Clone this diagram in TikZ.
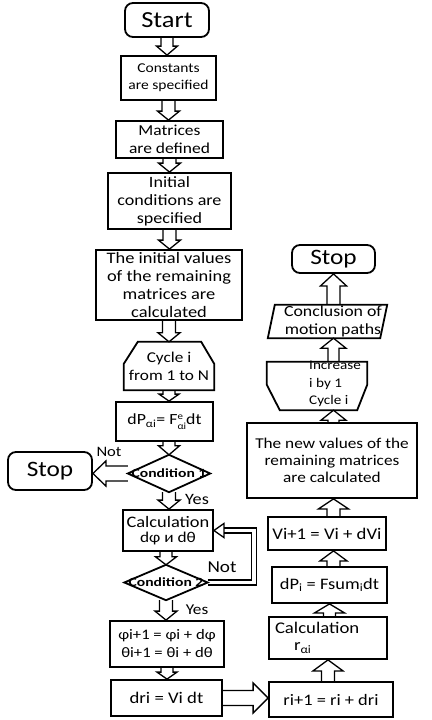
\documentclass[tikz,border=0pt]{standalone}
\usepackage{fontspec}
\setmainfont{Carlito}[FakeStretch=1.15]
\newfontfamily\condfont{Carlito}[FakeStretch=1.25]
\usetikzlibrary{calc}
\pgfdeclarelayer{bg}
\pgfsetlayers{bg,main}
\newcommand\fs[2]{\fontsize{#1}{#2}\selectfont}
% fat hollow arrow: tail, tip, half shaft, half head, head length
\newcommand\fatarrow[5]{%
  \coordinate (fa-h) at ($(#2)!#5!(#1)$);
  \filldraw[fatarr] ($(#1)!#3!90:(#2)$) -- ($(fa-h)!#3!90:(#2)$) -- ($(fa-h)!#4!90:(#2)$) -- (#2) -- ($(fa-h)!#4!-90:(#2)$) -- ($(fa-h)!#3!-90:(#2)$) -- ($(#1)!#3!-90:(#2)$);
}
\tikzset{
  box/.style={draw, line width=1.8pt, inner sep=1pt, align=center},
  term/.style={box, rounded corners=8pt},
  plain/.style={inner sep=1pt, align=center},
  shapeline/.style={draw, line width=1.8pt, line join=miter},
  fatarr/.style={draw, fill=white, line width=1.3pt, line join=miter},
  dbl/.style={draw, double, double distance=3.5pt, line width=1.3pt, line join=miter},
  lbl/.style={inner sep=0pt},
  cond/.style={inner sep=0pt, font=\condfont\bfseries\fs{12.5}{14}},
}
\begin{document}
\begin{tikzpicture}[x=1pt, y=-1pt]
\useasboundingbox (0,0) rectangle (431,720);

% left column
\node[term, minimum width=84pt, minimum height=34pt, font=\fs{23}{24}] (start) at (167,20) {Start};
\node[box, minimum width=95pt, minimum height=44pt, font=\fs{13.5}{16.7}] (const) at (168.5,78) {Constants\\are specified};
\node[box, minimum width=107pt, minimum height=37pt, font=\fs{15.2}{18.3}] (matr) at (169.5,139.5) {Matrices\\are defined};
\node[box, minimum width=123pt, minimum height=56pt, font=\fs{15.7}{18}] (initc) at (169.5,201) {Initial\\conditions are\\specified};
\node[box, minimum width=146pt, minimum height=70pt, font=\fs{16}{18.3}] (initv) at (169,285) {The initial values\\of the remaining\\matrices are\\calculated};
\node[plain, minimum width=90pt, minimum height=48pt, font=\fs{15}{17.7}] (cycle) at (169,366) {Cycle i\\from 1 to N};
\draw[shapeline] (cycle.south west) -- ($(cycle.north west)+(0,22)$) -- ($(cycle.north west)+(14,0)$) -- ($(cycle.north east)+(-13,0)$) -- ($(cycle.north east)+(0,22)$) -- (cycle.south east) -- cycle;
\node[box, minimum width=97pt, minimum height=39pt, font=\fs{15.5}{18}] (dp) at (164.5,421.5) {dP\textsubscript{αi}= F{\fs{9.5}{10}\raisebox{-4.5pt}{\shortstack[l]{e\\αi}}}dt};
\node[cond, minimum width=82pt, minimum height=37pt] (cond1) at (169,473.5) {Condition 1};
\draw[shapeline] (cond1.north) -- (cond1.east) -- (cond1.south) -- (cond1.west) -- cycle;
\node[term, minimum width=84pt, minimum height=38pt, font=\fs{22}{24}] (stop1) at (50,471) {Stop};
\node[box, minimum width=90pt, minimum height=41pt, font=\fs{16}{15.5}] (calc1) at (168,530.5) {Calculation\\{\fs{15}{15.5}dφ и dθ}};
\node[cond, minimum width=83pt, minimum height=35pt] (cond2) at (166,582.5) {Condition 2};
\draw[shapeline] (cond2.north) -- (cond2.east) -- (cond2.south) -- (cond2.west) -- cycle;
\node[box, minimum width=114pt, minimum height=46pt, font=\fs{14.5}{18}] (phi) at (167,644) {φi+1 = φi + dφ\\θi+1 = θi + dθ};
\node[box, minimum width=111pt, minimum height=36pt, font=\fs{16.3}{18}] (dri) at (166.5,698) {dri = Vi dt};

% labels
\node[lbl, font=\fs{14.4}{16}] (not1) at (109,452) {Not};
\node[lbl, font=\fs{15.8}{17}] (yes1) at (197,499) {Yes};
\node[lbl, font=\fs{16.7}{18}] (not2) at (222,567) {Not};
\node[lbl, font=\fs{15}{17}] (yes2) at (197,610) {Yes};

% right column
\node[box, minimum width=124pt, minimum height=35pt, font=\fs{16}{18}] (rnext) at (331,699.5) {ri+1 = ri + dri};
\node[box, minimum width=118pt, minimum height=42pt, text width=106pt, inner xsep=6pt, align=left, font=\fs{16.3}{17}] (calcr) at (328,638) {Calculation\\\hspace*{19pt}r\textsubscript{αi}};
\node[box, minimum width=115pt, minimum height=36pt, font=\fs{16}{18}] (dpi) at (329.5,585) {dP\textsubscript{i} = Fsum\textsubscript{i}dt};
\node[box, minimum width=118pt, minimum height=33pt, font=\fs{16.3}{18}] (vnext) at (327,533.5) {Vi+1 = Vi + dVi};
\node[box, minimum width=170pt, minimum height=75pt, font=\fs{15}{17}] (newv) at (332,460.5) {The new values of the\\remaining matrices\\are calculated};
\node[plain, minimum width=100pt, minimum height=48pt] (incr) at (317,386) {};
\draw[shapeline] (incr.north west) -- (incr.north east) -- ($(incr.north east)+(0,23)$) -- ($(incr.south east)+(-10,0)$) -- ($(incr.south west)+(13,0)$) -- ($(incr.north west)+(0,23)$) -- cycle;
\node[lbl, anchor=west, align=left, font=\fs{13.2}{17.5}] (incrtext) at (309,384) {Increase\\i by 1\\Cycle i};
\node[plain, minimum width=119pt, minimum height=33pt] (concl) at (327.5,321.5) {};
\draw[shapeline] (concl.south west) -- ($(concl.north west)+(7,0)$) -- (concl.north east) -- ($(concl.south east)+(-7,0)$) -- cycle;
\node[lbl, align=center, font=\fs{15.5}{18}] (concltext) at (333,321.5) {Conclusion of\\motion paths};
\node[term, minimum width=83pt, minimum height=28pt, font=\fs{22}{24}] (stop2) at (333.5,259) {Stop};

\coordinate (loopx) at (254,560);

\begin{pgfonlayer}{bg}
\fill[white] (0,0) rectangle (431,720);
\fatarrow{start.south}{start.south |- const.north}{6pt}{10.5pt}{9pt}
\fatarrow{const.south}{const.south |- matr.north}{6.5pt}{11pt}{9pt}
\fatarrow{matr.south}{matr.south |- initc.north}{6.5pt}{11pt}{9pt}
\fatarrow{initc.south}{initc.south |- initv.north}{6.5pt}{11pt}{9pt}
\fatarrow{initv.south}{initv.south |- cycle.north}{6.5pt}{11pt}{9pt}
\fatarrow{cycle.south}{cycle.south |- dp.north}{6pt}{10pt}{7pt}
\fatarrow{cond1.north |- dp.south}{cond1.north}{6pt}{10.5pt}{9pt}
\fatarrow{cond1.south}{cond1.south |- calc1.north}{6.5pt}{11pt}{9pt}
\fatarrow{cond2.north |- calc1.south}{cond2.north}{6pt}{10.5pt}{8pt}
\fatarrow{cond2.south}{cond2.south |- phi.north}{6.5pt}{11pt}{9pt}
\fatarrow{phi.south}{phi.south |- dri.north}{6pt}{10pt}{7pt}
\fatarrow{cond1.west}{cond1.west -| stop1.east}{7.5pt}{12.5pt}{13pt}
\fatarrow{dri.east}{dri.east -| rnext.west}{7.5pt}{15pt}{15pt}
\fatarrow{rnext.north -| calcr.south}{calcr.south}{6.5pt}{15pt}{11pt}
\fatarrow{dpi.south |- calcr.north}{dpi.south}{6pt}{15pt}{9pt}
\fatarrow{dpi.north -| stop2.south}{vnext.south -| stop2.south}{6.5pt}{13.5pt}{10pt}
\fatarrow{vnext.north -| stop2.south}{newv.south -| stop2.south}{6.5pt}{15pt}{10pt}
\fatarrow{newv.north -| stop2.south}{incr.south -| stop2.south}{5.5pt}{12.5pt}{10pt}
\fatarrow{incr.north -| stop2.south}{concl.south -| stop2.south}{5.5pt}{12.5pt}{10pt}
\fatarrow{concl.north -| stop2.south}{stop2.south}{6.5pt}{13pt}{12pt}
\draw[dbl] (cond2.east) -- (cond2.east -| loopx) -- (loopx |- calc1.east) -- ($(calc1.east)+(10,0)$);
\end{pgfonlayer}
\filldraw[fatarr] (calc1.east) -- ($(calc1.east)+(10,-7)$) -- ($(calc1.east)+(10,7)$) -- cycle;
\end{tikzpicture}
\end{document}
